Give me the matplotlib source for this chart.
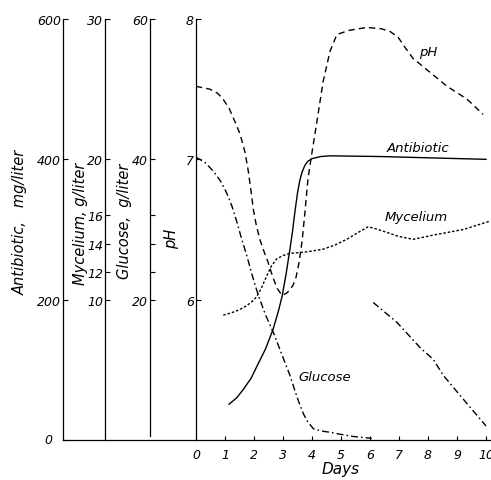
import matplotlib
matplotlib.use("Agg")
import matplotlib.pyplot as plt

plt.rcParams['font.family'] = 'DejaVu Sans'
plt.rcParams['font.style'] = 'italic'

# data (x in days)
ph_days = [0, 0.48, 0.75, 0.93, 1.15, 1.34, 1.52, 1.69, 1.8, 1.9, 1.98, 2.07, 2.2, 2.35,
           2.48, 2.65, 2.8, 2.97, 3.15, 3.34, 3.45, 3.55, 3.66, 3.76, 3.86, 4.0, 4.17,
           4.38, 4.62, 4.86, 5.3, 5.9, 6.4, 6.7, 6.97, 7.2, 7.48, 8.07, 8.66, 9.34, 9.9]
ph_vals = [7.52, 7.50, 7.47, 7.43, 7.36, 7.27, 7.18, 7.05, 6.92, 6.77, 6.64, 6.54, 6.43,
           6.34, 6.27, 6.16, 6.08, 6.03, 6.05, 6.10, 6.16, 6.26, 6.42, 6.63, 6.86, 7.05,
           7.27, 7.55, 7.77, 7.89, 7.92, 7.94, 7.93, 7.91, 7.87, 7.80, 7.72, 7.62, 7.52,
           7.43, 7.32]

anti_days = [1.14, 1.4, 1.63, 1.9, 2.1, 2.4, 2.66, 2.85, 2.97, 3.1, 3.24, 3.33, 3.41, 3.5,
             3.58, 3.66, 3.75, 3.85, 4.0, 4.3, 4.62, 6.34, 10.0]
anti_vals = [51, 60, 72, 88, 105, 130, 158, 185, 205, 235, 272, 298, 325, 352, 370, 382,
             391, 397, 401, 404, 405, 404, 400]

myc_days = [0.94, 1.2, 1.4, 1.6, 1.75, 1.95, 2.09, 2.25, 2.44, 2.6, 2.78, 3.0, 3.24, 3.8,
            4.39, 4.8, 5.2, 5.6, 5.94, 6.2, 6.57, 7.0, 7.49, 8.18, 9.22, 10.14]
myc_vals = [8.9, 9.05, 9.2, 9.4, 9.57, 9.9, 10.2, 10.8, 11.7, 12.4, 12.9, 13.15, 13.3,
            13.4, 13.6, 13.9, 14.3, 14.8, 15.2, 15.05, 14.8, 14.5, 14.3, 14.6, 15.0, 15.6]

glu_days = [0, 0.3, 0.6, 0.83, 1.0, 1.11, 1.25, 1.4, 1.55, 1.75, 1.95, 2.15, 2.4, 2.67,
            2.95, 3.24, 3.42, 3.59, 3.72, 3.85, 4.05, 4.3, 4.62, 5.0, 5.42, 6.06]
glu_vals = [40.3, 39.6, 38.3, 37.0, 35.7, 34.7, 33.2, 31.2, 29.0, 26.3, 23.3, 20.6, 17.8,
            15.3, 12.3, 9.2, 6.9, 4.9, 3.6, 2.6, 1.6, 1.3, 1.1, 0.8, 0.5, 0.24]

glu2_days = [6.11, 6.92, 7.72, 8.18, 8.53, 9.22, 10.0]
glu2_vals = [19.6, 16.8, 13.2, 11.5, 9.2, 5.8, 2.0]

day_ticks = list(range(11))
anti_ticks = [0, 200, 400, 600]
anti_labels = ['', '200', '400', '600']
myc_ticks = [10, 12, 14, 16, 20, 30]
glu_ticks = [20, 24, 28, 32, 40, 60]
glu_labels = ['20', '', '', '', '40', '60']
ph_ticks = [6, 7, 8]

W, H = 491, 481
fig = plt.figure(figsize=(W / 100, H / 100), dpi=100)
ax = fig.add_axes([196 / W, 40 / H, 290 / W, 421 / H])
ax.patch.set_visible(False)
aw = 290.0

ax_myc = ax.twinx()
ax_glu = ax.twinx()
ax_ph = ax.twinx()

fs = 9
lw_sp = 0.9
spine_x = {ax: -133 / aw, ax_myc: -91 / aw, ax_glu: -46 / aw, ax_ph: 0.0}
for a, pos in spine_x.items():
    for s in a.spines.values():
        s.set_visible(False)
    a.spines['left'].set_visible(True)
    a.spines['left'].set_position(('axes', pos))
    a.spines['left'].set_linewidth(lw_sp)
    a.yaxis.set_ticks_position('left')
    a.yaxis.set_label_position('left')
    a.tick_params(axis='y', direction='in', length=3.6, width=0.8, pad=1.5,
                  labelsize=fs, left=True, right=False, labelleft=True, labelright=False)
ax_glu.spines['left'].set_bounds(0.5, 60)

ax.set_xlim(0, 10)
ax.set_ylim(0, 600)
ax_myc.set_ylim(0, 30)
ax_glu.set_ylim(0, 60)
ax_ph.set_ylim(5, 8)

ax.set_yticks(anti_ticks)
ax.set_yticklabels(anti_labels)
ax_myc.set_yticks(myc_ticks)
ax_glu.set_yticks(glu_ticks)
ax_glu.set_yticklabels(glu_labels)
ax_ph.set_yticks(ph_ticks)

ax.set_xticks(day_ticks)
ax.tick_params(axis='x', direction='in', length=3, width=0.8, pad=6, labelsize=fs)
ax.axhline(0, xmin=-133 / aw, xmax=1.02, color='k', lw=lw_sp, clip_on=False)
# the lone "0" of the antibiotic scale sits well left of its spine
ax.text(-148 / aw, 0, '0', fontsize=fs, ha='center', va='center',
        transform=ax.get_yaxis_transform())

# curves
lw = 1.0
dashdot = (0, (5, 2.2, 1.2, 2.2))
ax_ph.plot(ph_days, ph_vals, color='k', lw=lw, ls=(0, (4.5, 3)), clip_on=False)
ax.plot(anti_days, anti_vals, color='k', lw=lw, clip_on=False)
ax_myc.plot(myc_days, myc_vals, color='k', lw=lw, ls=(0, (1.8, 1.4)), clip_on=False)
ax_glu.plot(glu_days, glu_vals, color='k', lw=lw, ls=dashdot, clip_on=False)
ax_glu.plot(glu2_days, glu2_vals, color='k', lw=lw, ls=dashdot, clip_on=False)

# curve labels
ax_ph.text(8.0, 7.77, 'pH', fontsize=9.5, ha='center', va='center')
ax.text(7.66, 417, 'Antibiotic', fontsize=9.5, ha='center', va='center')
ax_myc.text(7.59, 15.9, 'Mycelium', fontsize=9.5, ha='center', va='center')
ax_glu.text(4.45, 9.1, 'Glucose', fontsize=9.5, ha='center', va='center')

# axis titles
ax.set_xlabel('Days', fontsize=11, labelpad=0)
fig.text(20 / W, 1 - 222 / H, 'Antibiotic,   mg/liter', rotation=90, fontsize=10.5,
         ha='center', va='center')
fig.text(80 / W, 1 - 224 / H, 'Mycelium, g/liter', rotation=90, fontsize=10.5,
         ha='center', va='center')
fig.text(124 / W, 1 - 221 / H, 'Glucose,  g/liter', rotation=90, fontsize=10.5,
         ha='center', va='center')
fig.text(172 / W, 1 - 239 / H, 'pH', rotation=90, fontsize=10.5, ha='center', va='center')

fig.savefig('out.png', dpi=100)
